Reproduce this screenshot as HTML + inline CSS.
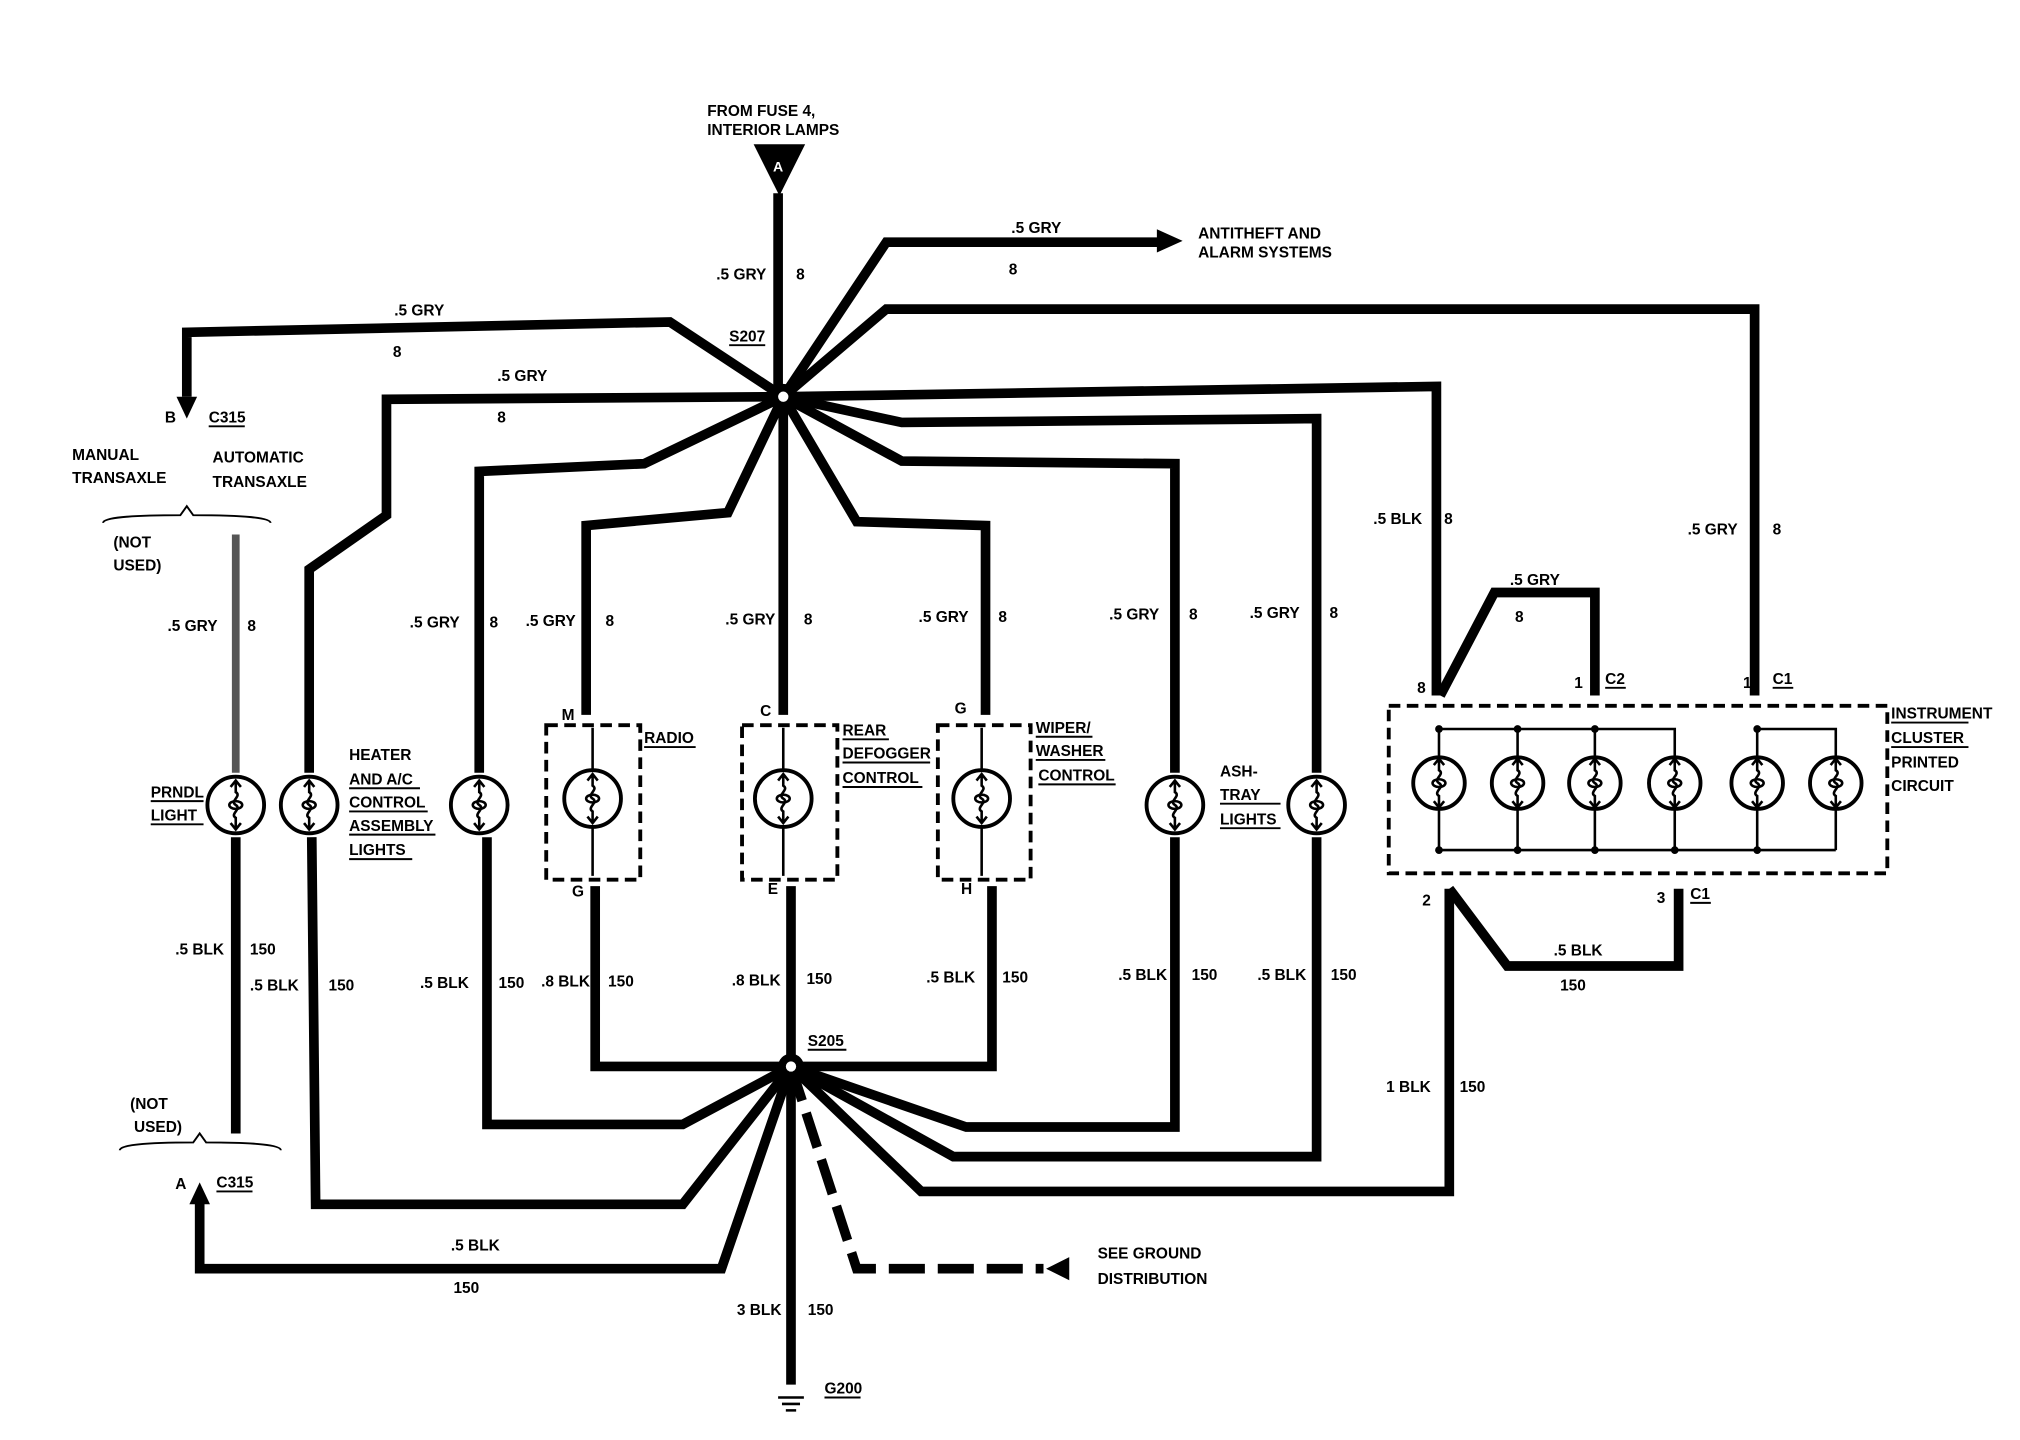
<!DOCTYPE html>
<html><head><meta charset="utf-8"><style>
html,body{margin:0;padding:0;background:#fff}
svg{display:block}
text{font-family:"Liberation Sans",sans-serif;font-weight:bold;font-size:12px;fill:#000}
</style></head><body>
<svg width="2020" height="1440" viewBox="0 0 1568 1118" preserveAspectRatio="none" xmlns="http://www.w3.org/2000/svg">
<defs>
<g id="fil" fill="none" stroke="#000" stroke-width="2"><path d="M0 -18 V-10 C5 -7 -5 -3 0 0 C5 3 -5 7 0 10 V18 M-4 -14 L0 -19 L4 -14 M-4 14 L0 19 L4 14"/><ellipse cx="0" cy="0" rx="5" ry="3"/></g>
</defs>
<rect width="1568" height="1118" fill="#fff"/>
<g fill="none" stroke="#000" stroke-width="7.5" stroke-linejoin="miter">
<path d="M604 150 V308"/>
<path d="M608 308 L688 188 H900"/>
<path d="M608 308 L688 240 H1362 V540"/>
<path d="M608 308 L520 250 L145 258 V308"/>
<path d="M608 308 L300 310 V400 L240 442 V600"/>
<path d="M608 308 L500 360 L372 366 V600"/>
<path d="M608 308 L565 398 L455 408 V555"/>
<path d="M608 308 V555"/>
<path d="M608 308 L665 405 L765 408 V555"/>
<path d="M608 308 L700 358 L912 360 V600"/>
<path d="M608 308 L700 328 L1022 325 V600"/>
<path d="M608 308 L1115 300 V540"/>
<path d="M1118 540 L1160 460 H1238 V540"/>
<path d="M462 688 V828 H770 V688"/>
<path d="M614 688 V1075"/>
<path d="M378 650 V873 H530 L614 828"/>
<path d="M242 650 L245 935 H530 L614 828"/>
<path d="M912 650 V875 H750 L614 828"/>
<path d="M1022 650 V898 H740 L614 828"/>
<path d="M1125 690 V925 H715 L614 828"/>
<path d="M1125 690 L1170 750 H1303 V690"/>
<path d="M614 828 L560 985 H155 V930"/>
<path d="M183 650 V880"/>
<path d="M614 828 L665 985 H810" stroke-dasharray="28,10"/>
</g>
<path d="M183 415 V600" stroke="#555" stroke-width="6"/>
<polygon points="898,178 918,187 898,196" fill="#000"/>
<polygon points="137,308 153,308 145,325" fill="#000"/>
<polygon points="147,935 163,935 155,918" fill="#000"/>
<polygon points="830,976 812,985 830,994" fill="#000"/>
<polygon points="585,112 625,112 605,152" fill="#000"/>
<text x="600" y="133" style="fill:#fff;font-size:11px">A</text>
<circle cx="608" cy="308" r="10" fill="#000"/><circle cx="608" cy="308" r="4" fill="#fff"/>
<circle cx="614" cy="828" r="10" fill="#000"/><circle cx="614" cy="828" r="4" fill="#fff"/>
<path d="M604 1085 H624 M607 1090 H621 M610 1095 H618" stroke="#000" stroke-width="2"/>
<g fill="none" stroke="#000" stroke-width="3" stroke-dasharray="9,5">
<rect x="424" y="563" width="73" height="120"/>
<rect x="576" y="563" width="74" height="120"/>
<rect x="728" y="563" width="72" height="120"/>
<rect x="1078" y="548" width="387" height="130"/>
</g>
<g fill="none" stroke="#000" stroke-width="3">
<circle cx="183" cy="625" r="22"/><circle cx="240" cy="625" r="22"/><circle cx="372" cy="625" r="22"/>
<circle cx="460" cy="620" r="22"/><circle cx="608" cy="620" r="22"/><circle cx="762" cy="620" r="22"/>
<circle cx="912" cy="625" r="22"/><circle cx="1022" cy="625" r="22"/>
<circle cx="1117" cy="608" r="20"/><circle cx="1178" cy="608" r="20"/><circle cx="1238" cy="608" r="20"/>
<circle cx="1300" cy="608" r="20"/><circle cx="1364" cy="608" r="20"/><circle cx="1425" cy="608" r="20"/>
</g>
<use href="#fil" x="183" y="625"/><use href="#fil" x="240" y="625"/><use href="#fil" x="372" y="625"/>
<use href="#fil" x="460" y="620"/><use href="#fil" x="608" y="620"/><use href="#fil" x="762" y="620"/>
<use href="#fil" x="912" y="625"/><use href="#fil" x="1022" y="625"/>
<use href="#fil" x="1117" y="608"/><use href="#fil" x="1178" y="608"/><use href="#fil" x="1238" y="608"/>
<use href="#fil" x="1300" y="608"/><use href="#fil" x="1364" y="608"/><use href="#fil" x="1425" y="608"/>
<g stroke="#000" stroke-width="2" fill="none">
<path d="M1117 565 V588 M1178 565 V588 M1238 565 V588 M1300 565 V588 M1364 565 V588 M1425 565 V588 M1117 628 V660 M1178 628 V660 M1238 628 V660 M1300 628 V660 M1364 628 V660 M1425 628 V660 M1117 566 H1300 M1364 566 H1425 M1117 660 H1425"/>
<path d="M460 565 V598 M460 642 V680 M608 565 V598 M608 642 V680 M762 565 V598 M762 642 V680"/>
</g>
<g fill="#000">
<circle cx="1117" cy="566" r="3"/><circle cx="1178" cy="566" r="3"/><circle cx="1238" cy="566" r="3"/><circle cx="1364" cy="566" r="3"/>
<circle cx="1117" cy="660" r="3"/><circle cx="1178" cy="660" r="3"/><circle cx="1238" cy="660" r="3"/><circle cx="1300" cy="660" r="3"/><circle cx="1364" cy="660" r="3"/>
</g>
<g font-size="11">
<text x="549" y="90">FROM FUSE 4,</text><text x="549" y="105">INTERIOR LAMPS</text>
<text x="930" y="185">ANTITHEFT AND</text><text x="930" y="200">ALARM SYSTEMS</text>
<text x="785" y="181">.5 GRY</text><text x="783" y="213">8</text>
<text x="556" y="217">.5 GRY</text><text x="618" y="217">8</text>
<text x="306" y="245">.5 GRY</text><text x="305" y="277">8</text>
<text x="566" y="265">S207</text>
<text x="386" y="296">.5 GRY</text><text x="386" y="328">8</text>
<text x="128" y="328">B</text><text x="162" y="328">C315</text>
<text x="56" y="357">MANUAL</text><text x="56" y="375">TRANSAXLE</text>
<text x="165" y="359">AUTOMATIC</text><text x="165" y="378">TRANSAXLE</text>
<text x="88" y="425">(NOT</text><text x="88" y="443">USED)</text>
<text x="130" y="490">.5 GRY</text><text x="192" y="490">8</text>
<text x="318" y="487">.5 GRY</text><text x="380" y="487">8</text>
<text x="408" y="486">.5 GRY</text><text x="470" y="486">8</text>
<text x="563" y="485">.5 GRY</text><text x="624" y="485">8</text>
<text x="713" y="483">.5 GRY</text><text x="775" y="483">8</text>
<text x="861" y="481">.5 GRY</text><text x="923" y="481">8</text>
<text x="970" y="480">.5 GRY</text><text x="1032" y="480">8</text>
<text x="1066" y="407">.5 BLK</text><text x="1121" y="407">8</text>
<text x="1310" y="415">.5 GRY</text><text x="1376" y="415">8</text>
<text x="1172" y="454">.5 GRY</text><text x="1176" y="483">8</text>
<text x="1100" y="538">8</text><text x="1222" y="534">1</text><text x="1246" y="531">C2</text>
<text x="1353" y="534">1</text><text x="1376" y="531">C1</text>
<text x="1468" y="558">INSTRUMENT</text><text x="1468" y="577">CLUSTER</text><text x="1468" y="596">PRINTED</text><text x="1468" y="614">CIRCUIT</text>
<text x="436" y="559">M</text><text x="590" y="556">C</text><text x="741" y="554">G</text>
<text x="500" y="577">RADIO</text>
<text x="654" y="571">REAR</text><text x="654" y="589">DEFOGGER</text><text x="654" y="608">CONTROL</text>
<text x="804" y="569">WIPER/</text><text x="804" y="587">WASHER</text><text x="806" y="606">CONTROL</text>
<text x="947" y="603">ASH-</text><text x="947" y="621">TRAY</text><text x="947" y="640">LIGHTS</text>
<text x="271" y="590">HEATER</text><text x="271" y="609">AND A/C</text><text x="271" y="627">CONTROL</text><text x="271" y="645">ASSEMBLY</text><text x="271" y="664">LIGHTS</text>
<text x="117" y="619">PRNDL</text><text x="117" y="637">LIGHT</text>
<text x="444" y="696">G</text><text x="596" y="694">E</text><text x="746" y="694">H</text>
<text x="1104" y="703">2</text><text x="1286" y="701">3</text><text x="1312" y="698">C1</text>
<text x="136" y="741">.5 BLK</text><text x="194" y="741">150</text>
<text x="194" y="769">.5 BLK</text><text x="255" y="769">150</text>
<text x="326" y="767">.5 BLK</text><text x="387" y="767">150</text>
<text x="420" y="766">.8 BLK</text><text x="472" y="766">150</text>
<text x="568" y="765">.8 BLK</text><text x="626" y="764">150</text>
<text x="719" y="763">.5 BLK</text><text x="778" y="763">150</text>
<text x="868" y="761">.5 BLK</text><text x="925" y="761">150</text>
<text x="976" y="761">.5 BLK</text><text x="1033" y="761">150</text>
<text x="1206" y="742">.5 BLK</text><text x="1211" y="769">150</text>
<text x="1076" y="848">1 BLK</text><text x="1133" y="848">150</text>
<text x="627" y="812">S205</text>
<text x="101" y="861">(NOT</text><text x="104" y="879">USED)</text>
<text x="136" y="923">A</text><text x="168" y="922">C315</text>
<text x="350" y="971">.5 BLK</text><text x="352" y="1004">150</text>
<text x="852" y="977">SEE GROUND</text><text x="852" y="997">DISTRIBUTION</text>
<text x="572" y="1021">3 BLK</text><text x="627" y="1021">150</text>
<text x="640" y="1082">G200</text>
</g>
<g stroke="#000" stroke-width="1.5">
<path d="M566 268 H594 M162 331 H190 M1246 534 H1262 M1376 534 H1392 M1312 701 H1328 M627 815 H657 M168 925 H196 M640 1085 H668"/>
<path d="M1468 561 H1528 M1468 580 H1528 M117 622 H158 M117 640 H158 M500 580 H540 M654 574 H690 M654 592 H722 M654 611 H716 M804 572 H848 M804 590 H858 M806 609 H866 M947 624 H994 M947 643 H994 M271 612 H326 M271 630 H332 M271 648 H338 M271 667 H320"/>
</g>
<path d="M80 406 Q80 400 140 400 L145 393 L150 400 Q210 400 210 406 M93 893 Q93 887 150 887 L155 880 L160 887 Q218 887 218 893" stroke="#000" stroke-width="1.5" fill="none"/>
</svg>
</body></html>
